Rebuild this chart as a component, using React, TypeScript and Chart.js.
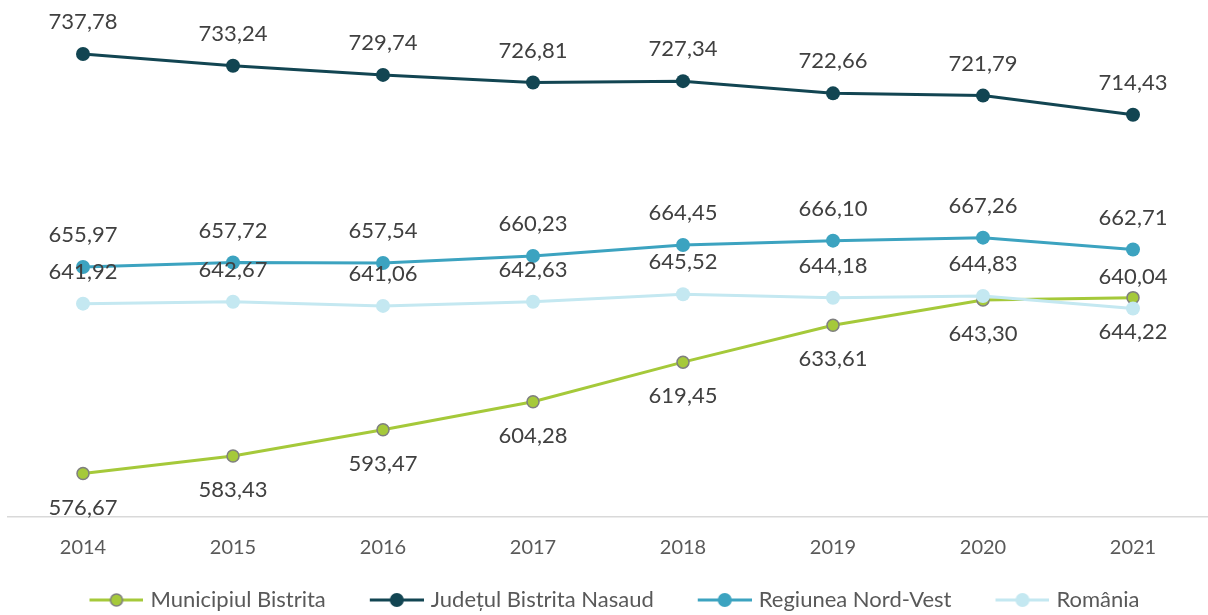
import React, { useEffect, useRef } from "react";
import { Chart, registerables } from "chart.js";

Chart.register(...registerables);

const years = ["2014", "2015", "2016", "2017", "2018", "2019", "2020", "2021"];
const municipiul = [576.67, 583.43, 593.47, 604.28, 619.45, 633.61, 643.3, 644.22];
const judetul = [737.78, 733.24, 729.74, 726.81, 727.34, 722.66, 721.79, 714.43];
const regiunea = [655.97, 657.72, 657.54, 660.23, 664.45, 666.1, 667.26, 662.71];
const romania = [641.92, 642.67, 641.06, 642.63, 645.52, 644.18, 644.83, 640.04];

const seriesNames = ["Municipiul Bistrita", "Județul Bistrita Nasaud", "Regiunea Nord-Vest", "România"];
const seriesColors = ["#A5C93A", "#124552", "#3CA3C0", "#C4E8F1"];
const seriesBorders = ["#7F7F7F", "#124552", "#3CA3C0", "#C4E8F1"];
const labelBelow = [true, false, false, false];

const FONT = "Lato, 'Open Sans', sans-serif";
const LEG_W = 89;
const LEGEND_SHIFT = -13;

function makeLegendMarker(color: string, border: string, isBordered: boolean) {
  const I = LEG_W + 8;
  const c = LEG_W - 46;
  const cv = document.createElement("canvas");
  cv.width = I;
  cv.height = 18;
  const ctx = cv.getContext("2d")!;
  ctx.strokeStyle = color;
  ctx.lineWidth = 3;
  ctx.beginPath();
  ctx.moveTo(c, 9);
  ctx.lineTo(c + 54, 9);
  ctx.stroke();
  ctx.beginPath();
  ctx.arc(c + 27, 9, isBordered ? 6 : 7, 0, Math.PI * 2);
  ctx.fillStyle = color;
  ctx.fill();
  if (isBordered) {
    ctx.lineWidth = 1.5;
    ctx.strokeStyle = border;
    ctx.stroke();
  }
  return cv;
}

const dataLabelPlugin = {
  id: "dataLabels",
  afterDatasetsDraw(chart: any) {
    const ctx = chart.ctx;
    ctx.save();
    ctx.font = `22px ${FONT}`;
    ctx.fillStyle = "#404040";
    ctx.textAlign = "center";
    ctx.textBaseline = "middle";
    chart.data.datasets.forEach((ds: any, i: number) => {
      const meta = chart.getDatasetMeta(i);
      meta.data.forEach((pt: any, j: number) => {
        const v = ds.data[j] as number;
        const txt = v.toFixed(2).replace(".", ",");
        const dy = labelBelow[i] ? 34 : -32;
        ctx.fillText(txt, pt.x, pt.y + dy);
      });
    });
    ctx.restore();
  },
};

const legendShiftPlugin = {
  id: "legendShift",
  afterLayout(chart: any) {
    const l = chart.legend;
    if (l) {
      l.left += LEGEND_SHIFT;
      l.right += LEGEND_SHIFT;
    }
  },
};

export default function App() {
  const ref = useRef<HTMLCanvasElement>(null);
  useEffect(() => {
    if (!ref.current) return;
    const allData = [municipiul, judetul, regiunea, romania];
    const markers = seriesColors.map((c, i) => makeLegendMarker(c, seriesBorders[i], i === 0));
    const chart = new Chart(ref.current, {
      type: "line",
      data: {
        labels: years,
        datasets: allData.map((d, i) => ({
          label: seriesNames[i],
          data: d,
          borderColor: seriesColors[i],
          backgroundColor: seriesColors[i],
          pointBackgroundColor: seriesColors[i],
          pointBorderColor: seriesBorders[i],
          pointBorderWidth: i === 0 ? 1.5 : 0,
          pointRadius: i === 0 ? 6 : 7,
          borderWidth: 3,
          tension: 0,
          fill: false,
          clip: false,
          order: 3 - i,
        })),
      },
      options: {
        animation: false,
        responsive: false,
        maintainAspectRatio: false,
        layout: { autoPadding: false, padding: { left: 8, right: 0, top: 0, bottom: 0 } },
        scales: {
          x: {
            offset: true,
            grid: { display: false, drawTicks: false },
            border: { display: true, color: "#D9D9D9", width: 1.5 },
            ticks: { font: { family: FONT, size: 20 }, color: "#595959", padding: 19 },
            afterFit: (scale: any) => {
              scale.height = 67;
            },
          },
          y: {
            display: false,
            min: 560,
            max: 758.5,
          },
        },
        plugins: {
          tooltip: { enabled: false },
          legend: {
            position: "bottom",
            maxHeight: 31,
            labels: {
              usePointStyle: true,
              pointStyleWidth: LEG_W,
              padding: 5,
              color: "#595959",
              font: { family: FONT, size: 22, lineHeight: 1 },
              generateLabels: (ch: any) =>
                ch.data.datasets.map((ds: any, i: number) => ({
                  text: ds.label,
                  fillStyle: seriesColors[i],
                  strokeStyle: seriesColors[i],
                  lineWidth: 0,
                  pointStyle: markers[i],
                  hidden: false,
                  datasetIndex: i,
                  fontColor: "#595959",
                })),
            },
          },
        },
      },
      plugins: [dataLabelPlugin, legendShiftPlugin],
    });
    return () => chart.destroy();
  }, []);
  return (
    <div style={{ position: "fixed", left: 0, top: 0, width: 1208, height: 615, background: "#fff" }}>
      <canvas ref={ref} width={1208} height={615} style={{ display: "block", width: 1208, height: 615 }} />
    </div>
  );
}
